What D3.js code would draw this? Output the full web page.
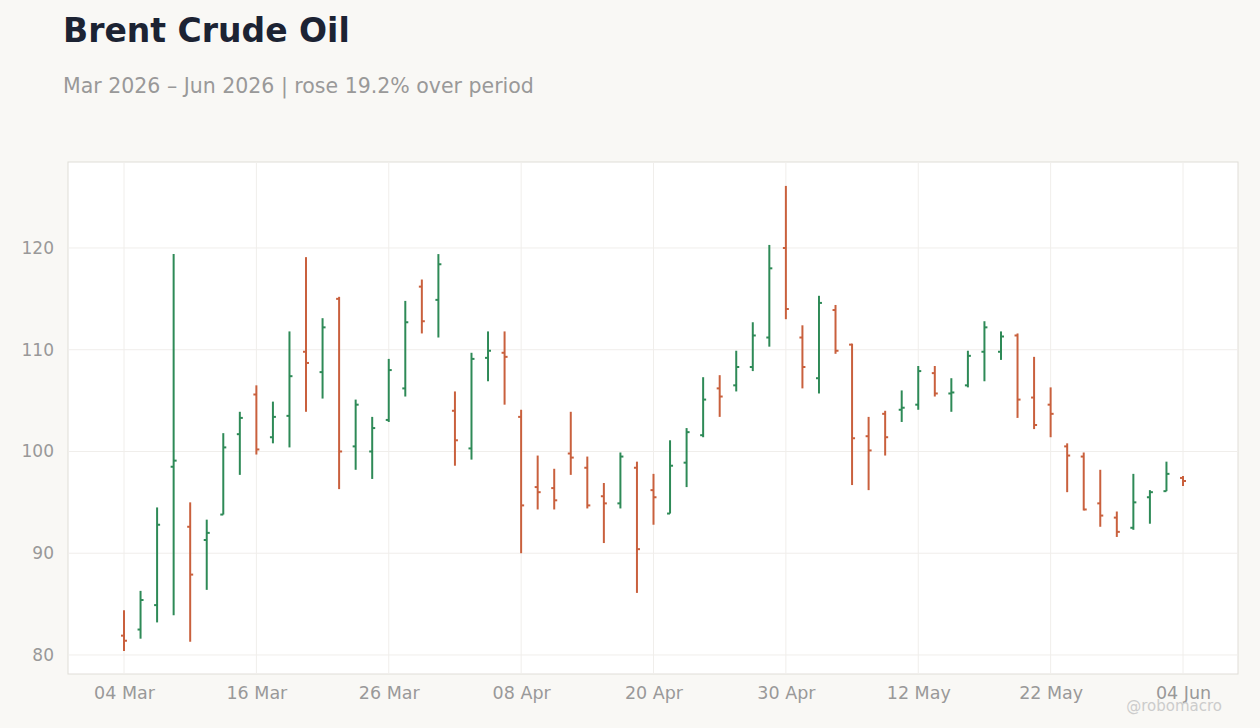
<!DOCTYPE html>
<html><head><meta charset="utf-8">
<script src="https://cdn.jsdelivr.net/npm/d3@7"></script>
<style>body{margin:0;background:#f9f8f5;font-family:"DejaVu Sans",sans-serif}</style>
</head><body><svg id="c" width="1260" height="728"></svg>
<script>
const dates=["2026-03-04","2026-03-05","2026-03-06","2026-03-09","2026-03-10","2026-03-11","2026-03-12","2026-03-13","2026-03-16","2026-03-17","2026-03-18","2026-03-19","2026-03-20","2026-03-23","2026-03-24","2026-03-25","2026-03-26","2026-03-27","2026-03-30","2026-03-31","2026-04-01","2026-04-02","2026-04-06","2026-04-07","2026-04-08","2026-04-09","2026-04-10","2026-04-13","2026-04-14","2026-04-15","2026-04-16","2026-04-17","2026-04-20","2026-04-21","2026-04-22","2026-04-23","2026-04-24","2026-04-27","2026-04-28","2026-04-29","2026-04-30","2026-05-01","2026-05-04","2026-05-05","2026-05-06","2026-05-07","2026-05-08","2026-05-11","2026-05-12","2026-05-13","2026-05-14","2026-05-15","2026-05-18","2026-05-19","2026-05-20","2026-05-21","2026-05-22","2026-05-26","2026-05-27","2026-05-28","2026-05-29","2026-06-01","2026-06-02","2026-06-03","2026-06-04"];
const open=[81.9,82.5,84.9,98.5,92.6,91.3,93.8,101.7,105.6,101.4,103.5,109.8,107.8,115.0,100.5,100.0,103.1,106.2,116.2,114.9,104.0,100.3,109.2,109.7,103.4,96.5,96.4,99.8,98.4,95.6,94.9,98.4,96.2,93.9,98.9,101.6,106.2,106.5,108.3,111.2,120.0,111.2,107.2,113.9,110.5,101.5,103.7,104.1,104.6,107.7,105.7,106.5,109.8,109.8,111.4,105.3,104.6,100.5,99.5,94.9,93.5,92.5,95.5,96.1,97.4];
const high=[84.4,86.3,94.5,119.4,95.0,93.3,101.8,103.9,106.5,104.9,111.8,119.1,113.1,115.2,105.1,103.4,109.1,114.8,116.9,119.4,105.9,109.7,111.8,111.8,104.1,99.6,98.3,103.9,99.5,96.9,99.9,99.0,97.8,101.1,102.3,107.3,107.5,109.9,112.7,120.3,126.1,112.4,115.3,114.4,110.6,103.4,104.0,106.0,108.4,108.4,107.2,109.9,112.8,111.8,111.6,109.3,106.3,100.8,99.9,98.2,94.1,97.8,96.2,99.0,97.6];
const low=[80.4,81.6,83.2,83.9,81.3,86.4,93.8,97.7,99.7,100.8,100.4,103.9,105.2,96.3,98.2,97.3,102.9,105.4,111.6,111.2,98.6,99.2,106.9,104.6,90.0,94.3,94.3,97.7,94.4,91.0,94.4,86.1,92.8,93.9,96.5,101.4,103.4,105.9,107.9,110.3,113.0,106.2,105.7,109.6,96.7,96.2,99.6,102.9,104.1,105.4,103.9,106.3,106.9,109.0,103.3,102.2,101.4,96.0,94.2,92.6,91.6,92.3,92.9,96.1,96.6];
const close=[81.4,85.4,92.8,99.1,87.9,92.0,100.4,103.3,100.2,103.4,107.4,108.7,112.2,100.0,104.6,102.3,108.0,112.7,112.8,118.4,101.1,109.1,109.9,109.3,94.7,96.0,95.2,99.4,94.7,94.9,99.5,90.4,95.5,98.6,101.9,105.1,105.4,108.3,111.4,118.0,114.0,108.3,114.6,109.9,101.3,100.1,101.4,104.3,107.9,105.7,105.8,109.4,112.2,111.3,105.1,102.6,103.7,99.6,94.3,93.7,92.1,95.0,96.0,97.8,97.1];
const yTicks=[80,90,100,110,120];

const svg=d3.select("#c");
const L=68,R=1238,T=162,B=674;
const x=d3.scalePoint().domain(dates).range([124,1183]);
const y=d3.scaleLinear().domain([78.13,128.45]).range([B,T]);
svg.append("rect").attr("x",L).attr("y",T).attr("width",R-L).attr("height",B-T).attr("fill","#fff").attr("stroke","#e0ddd8");
const fmt=d3.timeFormat("%d %b"),parse=d3.timeParse("%Y-%m-%d");
const xt=dates.filter((d,i)=>i%8===0);
svg.append("g").selectAll("line").data(xt).join("line").attr("x1",d=>x(d)).attr("x2",d=>x(d)).attr("y1",T).attr("y2",B).attr("stroke","#f0eeeb");
svg.append("g").selectAll("line").data(yTicks).join("line").attr("x1",L).attr("x2",R).attr("y1",d=>y(d)).attr("y2",d=>y(d)).attr("stroke","#f0eeeb");
const gx=svg.append("g").attr("transform",`translate(0,${B})`).call(d3.axisBottom(x).tickValues(xt).tickFormat(d=>fmt(parse(d))).tickSize(0).tickPadding(13));
const gy=svg.append("g").attr("transform",`translate(${L},0)`).call(d3.axisLeft(y).tickValues(yTicks).tickSize(0).tickPadding(14));
gx.selectAll("text").attr("font-size",17.5);
gy.selectAll("text").attr("font-size",17);
[gx,gy].forEach(g=>{g.select(".domain").remove();g.selectAll("text").attr("fill","#999").attr("font-family","DejaVu Sans");});
const idx=d3.range(dates.length);
const col=i=>close[i]>=open[i]?"#2e8a57":"#c9603d";
const g=svg.append("g");
g.selectAll(".hl").data(idx).join("line").attr("x1",i=>x(dates[i])).attr("x2",i=>x(dates[i])).attr("y1",i=>y(high[i])).attr("y2",i=>y(low[i])).attr("stroke",col).attr("stroke-width",2);
g.selectAll(".o").data(idx).join("line").attr("x1",i=>x(dates[i])-3).attr("x2",i=>x(dates[i])).attr("y1",i=>y(open[i])).attr("y2",i=>y(open[i])).attr("stroke",col).attr("stroke-width",2);
g.selectAll(".c").data(idx).join("line").attr("x1",i=>x(dates[i])).attr("x2",i=>x(dates[i])+3).attr("y1",i=>y(close[i])).attr("y2",i=>y(close[i])).attr("stroke",col).attr("stroke-width",2);
svg.append("text").attr("x",63).attr("y",42).attr("font-size",33).attr("font-weight","bold").attr("fill","#1c2333").text("Brent Crude Oil");
svg.append("text").attr("x",63).attr("y",93).attr("font-size",20.5).attr("fill","#999").text("Mar 2026 – Jun 2026 | rose 19.2% over period");
svg.append("text").attr("x",1222).attr("y",711).attr("text-anchor","end").attr("font-size",15).attr("fill","#ccc").text("@robomacro");
</script></body></html>
